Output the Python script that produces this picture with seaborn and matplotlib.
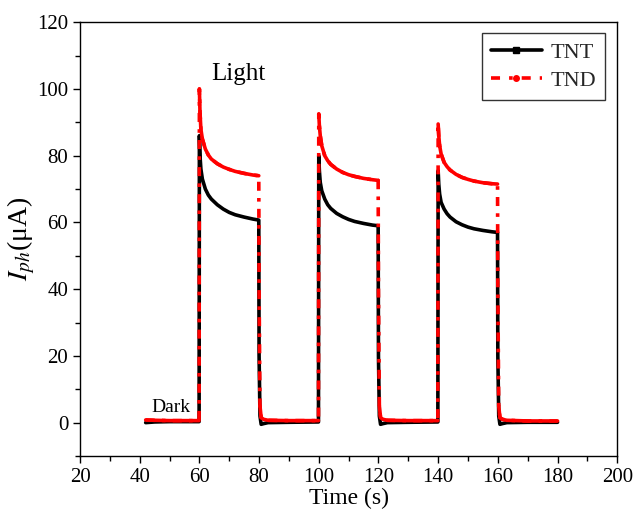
import matplotlib
matplotlib.use("Agg")
import matplotlib.pyplot as plt
from matplotlib.ticker import MultipleLocator
from matplotlib.lines import Line2D
import seaborn as sns
import pandas as pd

# ---------------- data ----------------
time = [42, 45, 50, 55, 59.9,
        60.0, 60.2, 60.5, 61, 62, 63, 64, 66, 68, 70, 72, 75, 78, 79.9,
        80.0, 80.3, 80.7, 81.5, 83, 90, 99.9,
        100.0, 100.2, 100.5, 101, 102, 103, 104, 106, 108, 110, 112, 115, 118, 119.9,
        120.0, 120.3, 120.7, 121.5, 123, 130, 139.9,
        140.0, 140.2, 140.5, 141, 142, 143, 144, 146, 148, 150, 152, 155, 158, 159.9,
        160.0, 160.3, 160.7, 161.5, 163, 170, 180]

tnt = [0.0, 0.2, 0.3, 0.3, 0.3,
       86, 80, 76, 73, 70, 68.2, 67, 65.3, 64.0, 63.0, 62.3, 61.6, 61.0, 60.7,
       20, 2, -0.5, -0.3, 0.0, 0.1, 0.2,
       80, 75.5, 72, 69.5, 67, 65.3, 64.2, 62.7, 61.7, 60.9, 60.3, 59.7, 59.2, 59.0,
       20, 2, -0.5, -0.3, 0.0, 0.1, 0.2,
       75.5, 71.5, 68.5, 66, 64, 62.6, 61.6, 60.2, 59.3, 58.6, 58.1, 57.6, 57.2, 57.0,
       20, 2, -0.5, -0.3, 0.0, 0.1, 0.1]

tnd = [0.8, 0.7, 0.6, 0.6, 0.6,
       100, 93, 88, 85, 82, 80.2, 79, 77.6, 76.6, 75.9, 75.3, 74.7, 74.2, 74.0,
       40, 5, 1.5, 1.0, 0.7, 0.6, 0.6,
       92.5, 89, 86, 83, 80, 78.5, 77.4, 76, 75, 74.3, 73.8, 73.2, 72.8, 72.6,
       40, 5, 1.5, 1.0, 0.7, 0.6, 0.6,
       89.5, 86, 83, 80.5, 78, 76.7, 75.7, 74.4, 73.5, 72.9, 72.4, 71.9, 71.6, 71.5,
       40, 5, 1.5, 1.0, 0.7, 0.5, 0.5]

# light-state segments (switching instants split the record into pieces)
switch_times = [60, 80, 100, 120, 140, 160]

series_names = ["TNT", "TND"]
x_ticks = [20, 40, 60, 80, 100, 120, 140, 160, 180, 200]
y_ticks = [0, 20, 40, 60, 80, 100, 120]

# ---------------- plot ----------------
sns.set_theme(style="ticks")
plt.rcParams["font.family"] = ["Liberation Serif", "DejaVu Serif"]
plt.rcParams["mathtext.fontset"] = "stix"
plt.rcParams["xtick.minor.visible"] = True
plt.rcParams["ytick.minor.visible"] = True


def segment_ids(ts):
    ids = []
    for t in ts:
        seg = sum(1 for s in switch_times if t >= s)
        # points right at a switching edge get their own piece
        edge = any(s <= t < s + 0.25 for s in switch_times if s in (80, 120, 160))
        ids.append(seg + (100 if edge else 0))
    return ids


df_tnt = pd.DataFrame({"Time": time, "I": tnt})
df_tnd = pd.DataFrame({"Time": time, "I": tnd, "seg": segment_ids(time)})

fig = plt.figure(figsize=(6.35, 5.17), dpi=100)
ax = fig.add_axes([0.126, 0.118, 0.846, 0.839])

sns.lineplot(data=df_tnt, x="Time", y="I", ax=ax, color="black", lw=2.6,
             estimator=None, sort=False, legend=False)
# TND: dashed trace (visible on the fast switching edges) ...
sns.lineplot(data=df_tnd, x="Time", y="I", ax=ax, color="red", lw=2.6,
             estimator=None, sort=False, legend=False)
ax.lines[-1].set_linestyle((0, (2.5, 2, 1, 2)))
# ... and the densely sampled steady parts, which render as a continuous trace
sns.lineplot(data=df_tnd, x="Time", y="I", units="seg", ax=ax, color="red",
             lw=2.6, estimator=None, sort=False, legend=False)

ax.set_xlim(20, 200)
ax.set_ylim(-10, 120)
ax.set_xticks(x_ticks)
ax.set_yticks(y_ticks)
ax.xaxis.set_minor_locator(MultipleLocator(10))
ax.yaxis.set_minor_locator(MultipleLocator(10))
ax.tick_params(which="major", direction="out", length=5, width=1, labelsize=15,
               color="black", labelcolor="black", top=False, right=False)
ax.tick_params(which="minor", direction="out", length=3.5, width=1,
               color="black", top=False, right=False)
for s in ax.spines.values():
    s.set_visible(True)
    s.set_color("black")
    s.set_linewidth(1.0)

ax.set_xlabel("Time (s)", fontsize=17, color="black", labelpad=1)
ax.set_ylabel(r"$I_{ph}$(μA)", fontsize=20, color="black", labelpad=0)

ax.text(73, 104.5, "Light", fontsize=18, ha="center", va="center", color="black")
ax.text(50.5, 4.6, "Dark", fontsize=14, ha="center", va="center", color="black")

handles = [
    Line2D([], [], color="black", lw=2.6, marker="s", markersize=4),
    Line2D([], [], color="red", lw=2.6, marker="o", markersize=4,
           linestyle=(0, (2.5, 2.5, 1, 2.5))),
]
leg = ax.legend(handles, series_names, loc="upper right",
                bbox_to_anchor=(0.978, 0.975), borderaxespad=0, fontsize=16,
                frameon=True, fancybox=False, edgecolor="black",
                handlelength=2.3, handletextpad=0.4, borderpad=0.4,
                labelspacing=0.35)
leg.get_frame().set_linewidth(1.0)

fig.savefig("out.png", dpi=100)
